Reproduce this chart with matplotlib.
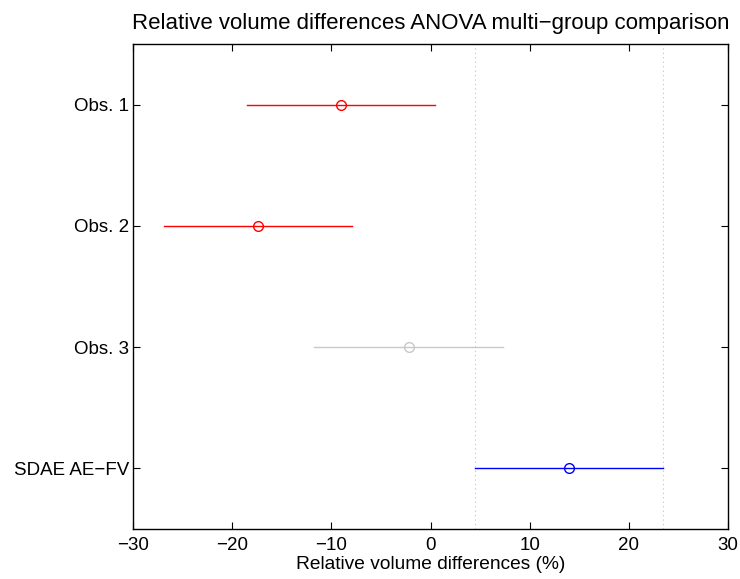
import matplotlib
matplotlib.use("Agg")
import matplotlib.pyplot as plt

groups = ["Obs. 1", "Obs. 2", "Obs. 3", "SDAE AE\u2212FV"]
means = [-9.0, -17.4, -2.2, 13.95]
lower = [-18.5, -26.9, -11.7, 4.45]
upper = [0.5, -7.9, 7.3, 23.45]
colors = ["#ff0000", "#ff0000", "#c8c8c8", "#0000ff"]
ref_lines = [4.45, 23.45]
xticks = [-30, -20, -10, 0, 10, 20, 30]

plt.rcParams['font.family'] = ['Liberation Sans', 'DejaVu Sans']
fs = 13.5

fig = plt.figure(figsize=(7.4, 5.79), dpi=100)
ax = fig.add_axes([133/740, 1-529/579, (728-133)/740, (529-44)/579])

ypos = list(range(1, len(groups)+1))
for xr in ref_lines:
    ax.axvline(xr, color="#c0c0c0", linestyle=(0, (1, 3)), linewidth=0.8, zorder=1)
for y, m, lo, hi, c in zip(ypos, means, lower, upper, colors):
    ax.plot([lo, hi], [y, y], color=c, linewidth=1.0, zorder=2)
    ax.plot([m], [y], marker='o', markersize=7, markerfacecolor='none',
            markeredgecolor=c, markeredgewidth=1.0, linestyle='none', zorder=3)

ax.set_xlim(-30, 30)
ax.set_ylim(len(groups)+0.5, 0.5)
ax.set_xticks(xticks)
ax.set_xticklabels([str(t).replace('-', '\u2212') for t in xticks], fontsize=fs)
ax.set_yticks(ypos)
ax.set_yticklabels(groups, fontsize=fs)
ax.tick_params(direction='in', top=True, right=True, length=5, width=0.8)
ax.tick_params(axis='x', pad=6)
ax.tick_params(axis='y', pad=3)
for s in ax.spines.values():
    s.set_linewidth(1.0)
ax.set_xlabel("Relative volume differences (%)", fontsize=fs+0.3, labelpad=1)
ax.set_title("Relative volume differences ANOVA multi\u2212group comparison", fontsize=16, pad=11)

fig.savefig("out.png", dpi=100)
